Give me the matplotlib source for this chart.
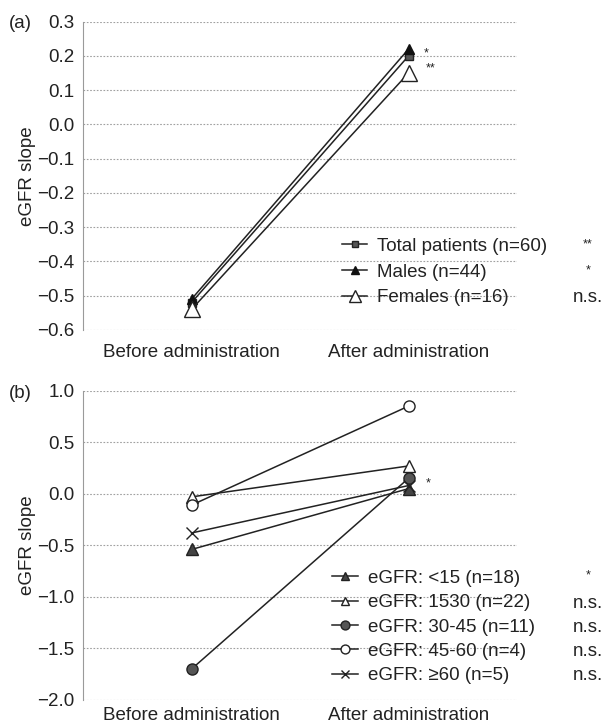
import matplotlib
matplotlib.use("Agg")
import matplotlib.pyplot as plt

plt.rcParams['font.family'] = ['Liberation Sans', 'DejaVu Sans']
plt.rcParams['axes.unicode_minus'] = True

# ---------------- data ----------------
categories = ["Before administration", "After administration"]

# panel (a)
a_labels = ["Total patients (n=60)", "Males (n=44)", "Females (n=16)"]
a_total = [-0.52, 0.20]
a_males = [-0.51, 0.22]
a_females = [-0.54, 0.15]
a_sig = ["**", "*", "n.s."]
a_yticks = [0.3, 0.2, 0.1, 0.0, -0.1, -0.2, -0.3, -0.4, -0.5, -0.6]

# panel (b)
b_labels = ["eGFR: <15 (n=18)", "eGFR: 1530 (n=22)", "eGFR: 30-45 (n=11)",
            "eGFR: 45-60 (n=4)", "eGFR: \u226560 (n=5)"]
b_lt15 = [-0.54, 0.05]
b_15_30 = [-0.03, 0.27]
b_30_45 = [-1.70, 0.15]
b_45_60 = [-0.11, 0.85]
b_ge60 = [-0.38, 0.08]
b_sig = ["*", "n.s.", "n.s.", "n.s.", "n.s."]
b_yticks = [1.0, 0.5, 0.0, -0.5, -1.0, -1.5, -2.0]

# ---------------- figure ----------------
W, H = 606, 724
fig = plt.figure(figsize=(W / 100, H / 100), dpi=100)

FS = 13.5
TXT = '#222222'

def px_axes(left, top, right, bottom):
    return fig.add_axes([left / W, 1 - bottom / H, (right - left) / W, (bottom - top) / H])

def style(ax, ylim, yticks, xpad):
    x = range(len(categories))
    ax.set_xlim(-0.5, 1.5)
    ax.set_ylim(*ylim)
    ax.set_yticks(yticks)
    ax.set_yticklabels([f"{v:.1f}".replace('-', '\u2212') for v in yticks])
    ax.set_xticks(list(x))
    ax.set_xticklabels(categories)
    ax.tick_params(axis='both', length=0, labelsize=FS, colors=TXT)
    ax.tick_params(axis='y', pad=6)
    ax.tick_params(axis='x', pad=xpad)
    for s in ['top', 'right', 'bottom']:
        ax.spines[s].set_visible(False)
    ax.spines['left'].set_color('#9a9a9a')
    ax.spines['left'].set_linewidth(0.8)
    ax.set_axisbelow(True)
    ax.yaxis.grid(True, color='#a0a0a0', linestyle=(0, (1.5, 1.5)), linewidth=0.8)
    ax.set_ylabel("eGFR slope", fontsize=FS, color=TXT, labelpad=1)

x = list(range(len(categories)))

# ---- panel (a)
axa = px_axes(83, 21.7, 517, 330)
style(axa, (-0.6, 0.3), a_yticks, 10)
ha = []
ha += axa.plot(x, a_total, color='#222', lw=1.1, marker='s', ms=6, mfc='#555555', mec='#222')
ha += axa.plot(x, a_males, color='#222', lw=1.1, marker='^', ms=7, mfc='#111111', mec='#111')
ha += axa.plot(x, a_females, color='#222', lw=1.1, marker='^', ms=11, mfc='white', mec='#222')
leg_a = axa.legend(ha, a_labels, loc='center left', frameon=False, fontsize=FS,
                   bbox_to_anchor=(342 / W, 1 - 272 / H), bbox_transform=fig.transFigure,
                   borderpad=0, borderaxespad=0, handlelength=1.35, handletextpad=0.5,
                   labelspacing=0.47, markerscale=0.75)
for t in leg_a.get_texts():
    t.set_color(TXT)
for sig, yy in zip(a_sig, [244, 270, 298]):
    fig.text(588 / W, 1 - yy / H, sig, ha='center', va='center', fontsize=FS if sig == 'n.s.' else 9, color=TXT)
axa.annotate("*", xy=(x[1], a_males[1]), xytext=(13, -3), textcoords='offset points',
             fontsize=9, ha='center', va='center', color=TXT)
axa.annotate("**", xy=(x[1], a_total[1]), xytext=(16, -9), textcoords='offset points',
             fontsize=9, ha='center', va='center', color=TXT)
fig.text(9 / W, 1 - 24 / H, "(a)", ha='left', va='center', fontsize=FS, color=TXT)

# ---- panel (b)
axb = px_axes(83, 390.7, 517, 700)
style(axb, (-2.0, 1.0), b_yticks, 5)
hb = []
hb += axb.plot(x, b_lt15, color='#222', lw=1.1, marker='^', ms=8, mfc='#444444', mec='#222')
hb += axb.plot(x, b_15_30, color='#222', lw=1.1, marker='^', ms=8, mfc='white', mec='#222')
hb += axb.plot(x, b_30_45, color='#222', lw=1.1, marker='o', ms=8, mfc='#555555', mec='#222')
hb += axb.plot(x, b_45_60, color='#222', lw=1.1, marker='o', ms=8, mfc='white', mec='#222')
hb += axb.plot(x, b_ge60, color='#222', lw=1.1, marker='x', ms=8, mfc='none', mec='#222', mew=1.0)
leg_b = axb.legend(hb, b_labels, loc='center left', frameon=False, fontsize=FS,
                   bbox_to_anchor=(332 / W, 1 - 627 / H), bbox_transform=fig.transFigure,
                   borderpad=0, borderaxespad=0, handlelength=1.4, handletextpad=0.5,
                   labelspacing=0.39, markerscale=0.8)
for t in leg_b.get_texts():
    t.set_color(TXT)
for sig, yy in zip(b_sig, [575, 603, 627, 651, 676]):
    fig.text(588 / W, 1 - yy / H, sig, ha='center', va='center', fontsize=FS if sig == 'n.s.' else 9, color=TXT)
axb.annotate("*", xy=(x[1], b_30_45[1]), xytext=(14, -4), textcoords='offset points',
             fontsize=9, ha='center', va='center', color=TXT)
fig.text(9 / W, 1 - 394 / H, "(b)", ha='left', va='center', fontsize=FS, color=TXT)

fig.savefig("out.png", dpi=100)
